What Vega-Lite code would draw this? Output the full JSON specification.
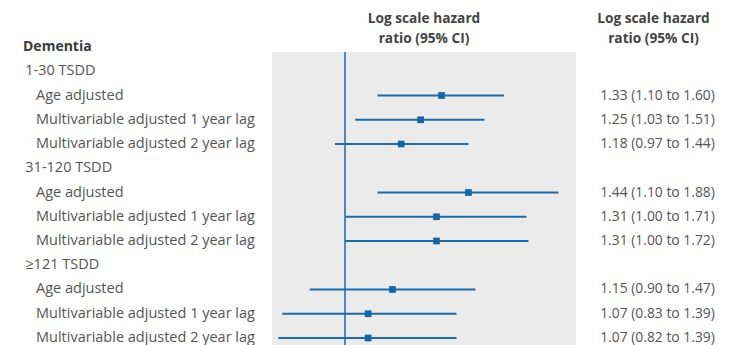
{
  "$schema": "https://vega.github.io/schema/vega-lite/v6.json",
  "autosize": {"type": "pad"},
  "padding": {"top": 11, "left": 0, "right": 0, "bottom": 0},
  "bounds": "flush",
  "spacing": 0,
  "background": "white",
  "config": {
    "view": {"stroke": null},
    "font": "Open Sans",
    "title": {"font": "Open Sans", "fontSize": 13.7, "fontWeight": "bold", "color": "#444444", "anchor": "middle", "frame": "group", "offset": 6, "lineHeight": 20}
  },
  "datasets": {
    "rows": [
      {"row": 0, "label": "Dementia", "level": 0},
      {"row": 1, "label": "1-30 TSDD", "level": 1},
      {"row": 2, "label": "Age adjusted", "level": 2, "hr": 1.33, "lo": 1.10, "hi": 1.60, "est": "1.33 (1.10 to 1.60)"},
      {"row": 3, "label": "Multivariable adjusted 1 year lag", "level": 2, "hr": 1.25, "lo": 1.03, "hi": 1.51, "est": "1.25 (1.03 to 1.51)"},
      {"row": 4, "label": "Multivariable adjusted 2 year lag", "level": 2, "hr": 1.18, "lo": 0.97, "hi": 1.44, "est": "1.18 (0.97 to 1.44)"},
      {"row": 5, "label": "31-120 TSDD", "level": 1},
      {"row": 6, "label": "Age adjusted", "level": 2, "hr": 1.44, "lo": 1.10, "hi": 1.88, "est": "1.44 (1.10 to 1.88)"},
      {"row": 7, "label": "Multivariable adjusted 1 year lag", "level": 2, "hr": 1.31, "lo": 1.00, "hi": 1.71, "est": "1.31 (1.00 to 1.71)"},
      {"row": 8, "label": "Multivariable adjusted 2 year lag", "level": 2, "hr": 1.31, "lo": 1.00, "hi": 1.72, "est": "1.31 (1.00 to 1.72)"},
      {"row": 9, "label": "≥121 TSDD", "level": 1},
      {"row": 10, "label": "Age adjusted", "level": 2, "hr": 1.15, "lo": 0.90, "hi": 1.47, "est": "1.15 (0.90 to 1.47)"},
      {"row": 11, "label": "Multivariable adjusted 1 year lag", "level": 2, "hr": 1.07, "lo": 0.83, "hi": 1.39, "est": "1.07 (0.83 to 1.39)"},
      {"row": 12, "label": "Multivariable adjusted 2 year lag", "level": 2, "hr": 1.07, "lo": 0.82, "hi": 1.39, "est": "1.07 (0.82 to 1.39)"}
    ]
  },
  "hconcat": [
    {
      "width": 272,
      "height": 294,
      "data": {"name": "rows"},
      "layer": [
        {
          "transform": [{"filter": "datum.level == 0"}],
          "mark": {"type": "text", "align": "left", "baseline": "middle", "fontSize": 14, "fontWeight": "bold", "color": "#3a3a3a", "clip": false},
          "encoding": {
            "x": {"field": "level", "type": "quantitative", "scale": {"type": "pow", "exponent": 2.5, "domain": [0, 2], "range": [23, 36]}, "axis": null},
            "y": {"field": "row", "type": "quantitative", "scale": {"domain": [0.206, 12.33], "reverse": true, "nice": false, "zero": false}, "axis": null},
            "text": {"field": "label"}
          }
        },
        {
          "transform": [{"filter": "datum.level > 0"}],
          "mark": {"type": "text", "align": "left", "baseline": "middle", "fontSize": 14.5, "color": "#555555", "clip": false},
          "encoding": {
            "x": {"field": "level", "type": "quantitative", "scale": {"type": "pow", "exponent": 2.5, "domain": [0, 2], "range": [23, 36]}, "axis": null},
            "y": {"field": "row", "type": "quantitative", "scale": {"domain": [0.206, 12.33], "reverse": true, "nice": false, "zero": false}, "axis": null},
            "text": {"field": "label"}
          }
        }
      ]
    },
    {
      "width": 304,
      "height": 294,
      "view": {"fill": "#ebebeb", "stroke": null},
      "title": {"text": ["Log scale hazard", "ratio (95% CI)"]},
      "data": {"name": "rows"},
      "layer": [
        {
          "mark": {"type": "rule", "color": "#4a8ac0", "strokeWidth": 1.3},
          "encoding": {
            "x": {"datum": 1, "type": "quantitative", "scale": {"type": "log", "domain": [0.805, 1.98], "nice": false, "zero": false}, "axis": null}
          }
        },
        {
          "transform": [{"filter": "isValid(datum.hr)"}],
          "mark": {"type": "rule", "color": "#1c6aa8", "strokeWidth": 2},
          "encoding": {
            "x": {"field": "lo", "type": "quantitative", "scale": {"type": "log", "domain": [0.805, 1.98], "nice": false, "zero": false}, "axis": null},
            "x2": {"field": "hi"},
            "y": {"field": "row", "type": "quantitative", "scale": {"domain": [0.206, 12.33], "reverse": true, "nice": false, "zero": false}, "axis": null}
          }
        },
        {
          "transform": [{"filter": "isValid(datum.hr)"}],
          "mark": {"type": "point", "shape": "square", "filled": true, "size": 45, "color": "#1565a5", "opacity": 1},
          "encoding": {
            "x": {"field": "hr", "type": "quantitative", "scale": {"type": "log", "domain": [0.805, 1.98], "nice": false, "zero": false}, "axis": null},
            "y": {"field": "row", "type": "quantitative", "scale": {"domain": [0.206, 12.33], "reverse": true, "nice": false, "zero": false}, "axis": null}
          }
        }
      ]
    },
    {
      "width": 163,
      "height": 294,
      "title": {"text": ["Log scale hazard", "ratio (95% CI)"], "dx": -4},
      "data": {"name": "rows"},
      "transform": [{"filter": "isValid(datum.est)"}],
      "mark": {"type": "text", "align": "center", "baseline": "middle", "fontSize": 13.9, "color": "#555555", "clip": false},
      "encoding": {
        "y": {"field": "row", "type": "quantitative", "scale": {"domain": [0.206, 12.33], "reverse": true, "nice": false, "zero": false}, "axis": null},
        "text": {"field": "est"}
      }
    }
  ]
}
